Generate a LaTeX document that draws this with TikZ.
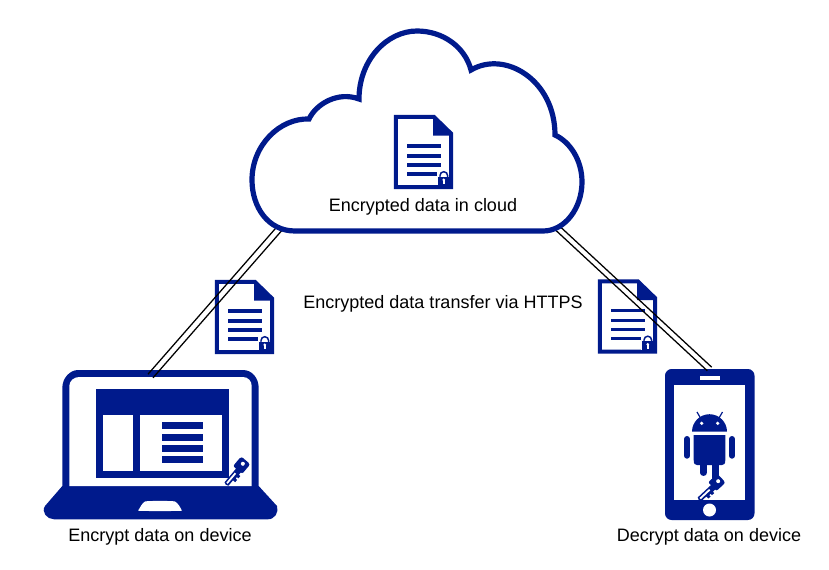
\documentclass[tikz,border=0pt]{standalone}
\usepackage{fontspec}
\setmainfont{Liberation Sans}
\definecolor{navy}{RGB}{0,26,140}
\tikzset{
  x=0.75pt,y=-0.75pt,
  cloudline/.style={draw=navy,line width=3.9pt,line join=miter,fill=white},
  link/.style={draw=black,line width=0.95pt},
  caption/.style={text=black,font=\fontsize{13.5}{15}\selectfont,inner sep=0pt,anchor=base},
  docicon/.pic={
    \draw[draw=navy,line width=2.9pt,miter limit=4] (1.9,1.9) -- (40,1.9) -- (57.1,18.5) -- (57.1,72.1) -- (1.9,72.1) -- cycle;
    \fill[navy] (39,1) -- (58.5,19.5) -- (58.5,20.5) -- (39,20.5) -- cycle;
    \foreach \yy in {31,41,50,59}{\fill[navy] (12.5,\yy-1.7) rectangle (47,\yy+1.7);}
    \fill[white] (42.5,55) rectangle (55.2,70.2);
    \draw[navy,line width=1.1pt] (46,62) -- (46,60.5) arc[start angle=180,end angle=360,radius=3.8] -- (53.6,62);
    \fill[navy] (44,61.5) rectangle (55.5,70.5);
    \fill[white] (49,65) rectangle (50.6,69);
    \fill[white] (49.8,64.8) circle (1.5);
  },
  keyicon/.pic={
    \fill[navy] (0,-2.6) -- (18,-2.6) -- (18,-5) .. controls (18,-6) and (19,-6.5) .. (20,-6.5) -- (28,-6.5) .. controls (30,-6.5) and (30.5,-5) .. (30.5,-4) -- (30.5,3) .. controls (30.5,5) and (29,5.5) .. (28,5.5) -- (20,5.5) .. controls (18.5,5.5) and (18,4.5) .. (18,3.5) -- (15,3.5) -- (15,5.5) -- (12,5.5) -- (12,3.5) -- (10,3.5) -- (10,5.5) -- (7,5.5) -- (7,2.6) -- (0,2.6) -- (-1,0) -- cycle;
    \fill[white] (1,-1) -- (14,-1) -- (14,0.8) -- (1,0.8) -- cycle;
    \fill[white] (26,-0.5) circle (2);
  }
}
\begin{document}
\begin{tikzpicture}
\useasboundingbox[fill=white] (0,0) rectangle (829,569);
% connector end points
\coordinate (cloudL) at (279.5,228.5);
\coordinate (laptopT) at (150.5,376);
\coordinate (cloudR) at (558,228.5);
\coordinate (phoneT) at (709.5,369);
% laptop
\fill[navy] (62.3,388) .. controls (62.3,378) and (70,370) .. (78,370) -- (243,370) .. controls (252,370) and (258.7,378) .. (258.7,388) -- (258.7,486) -- (277,506) .. controls (279,512) and (275,519.3) .. (268,519.3) -- (54,519.3) .. controls (47,519.3) and (41,512) .. (45,506) -- (62.3,486) -- cycle;
\fill[white] (69.3,386) .. controls (69.3,381) and (74,377) .. (79,377) -- (243,377) .. controls (248,377) and (251.7,381) .. (251.7,386) -- (251.7,486) -- (69.3,486) -- cycle;
\fill[navy] (95.7,389) rectangle (228.7,478);
\fill[white] (103,415) rectangle (132.7,470.7);
\fill[white] (140,415) rectangle (221.7,470.7);
\foreach \yy in {425.8,437.3,448.4,459.5}{\fill[navy] (162,\yy-3.5) rectangle (202.7,\yy+3.5);}
\fill[white] (138,510.7) .. controls (140,508) and (142,503) .. (145,501.5) .. controls (147,500.7) and (173,500.7) .. (175,501.5) .. controls (178,503) and (180,507) .. (182,510.7) .. controls (170,511.2) and (150,511.2) .. (138,510.7) -- cycle;
\pic[rotate=50] at (226.5,484) {keyicon};
\node[caption] (laptoptext) at (160,541) {Encrypt data on device};
% phone
\fill[navy,rounded corners=5pt] (665,369) rectangle (754.5,520);
\fill[white] (700,376) rectangle (719.5,380);
\fill[white] (674,385) rectangle (745,500);
\fill[white] (709.5,510) circle (6.5);
% android
\fill[navy] (692,431.7) arc[start angle=180,end angle=360,radius=17.5] -- cycle;
\draw[navy,line width=0.9pt] (700.5,418) -- (697,412);
\draw[navy,line width=0.9pt] (719,418) -- (722.5,412);
\fill[white] (701.7,423.3) circle (1.8);
\fill[white] (717.7,423.3) circle (1.8);
\draw[navy,line width=4.5pt,line cap=round] (687,439) -- (687,455.7);
\draw[navy,line width=4.5pt,line cap=round] (732,439) -- (732,455.7);
\fill[navy] (693.7,435) -- (725.3,435) -- (725.3,460) .. controls (725.3,464) and (724,465) .. (722,465) -- (697,465) .. controls (695,465) and (693.7,464) .. (693.7,460) -- cycle;
\draw[navy,line width=4.9pt,line cap=round] (703.4,463) -- (703.4,472.7);
\draw[navy,line width=4.9pt,line cap=round] (715.5,463) -- (715.5,478);
\pic[rotate=43] at (699.5,499.3) {keyicon};
\node[caption] (phonetext) at (709,541) {Decrypt data on device};
% documents beside the links
\pic at (215,280) {docicon};
\pic at (598,279.5) {docicon};
% links
\draw[link] ([shift={(-2.5,-1.8)}]cloudL) -- ([shift={(-2.5,-1.8)}]laptopT);
\draw[link] ([shift={(2.5,1.8)}]cloudL) -- ([shift={(2.5,1.8)}]laptopT);
\draw[link] ([shift={(2.2,-1.8)}]cloudR) -- ([shift={(2.2,-1.8)}]phoneT);
\draw[link] ([shift={(-2.2,1.8)}]cloudR) -- ([shift={(-2.2,1.8)}]phoneT);
% cloud
\path[cloudline] (295,231) .. controls (268,231) and (252,207) .. (252,180)
  .. controls (252,145) and (280,118) .. (309,119)
  .. controls (316,104) and (338,91) .. (359,99)
  .. controls (359,60) and (387,31) .. (417,31)
  .. controls (443,31) and (465,47) .. (471,70)
  .. controls (505,50) and (555,80) .. (555,135)
  .. controls (570,142) and (582,160) .. (582,182)
  .. controls (582,208) and (565,231) .. (543,231)
  -- cycle;
\pic at (394,115) {docicon};
\node[caption] (cloudtext) at (423,211) {Encrypted data in cloud};
\node[caption] (transfer) at (443,308) {Encrypted data transfer via HTTPS};
\end{tikzpicture}
\end{document}
